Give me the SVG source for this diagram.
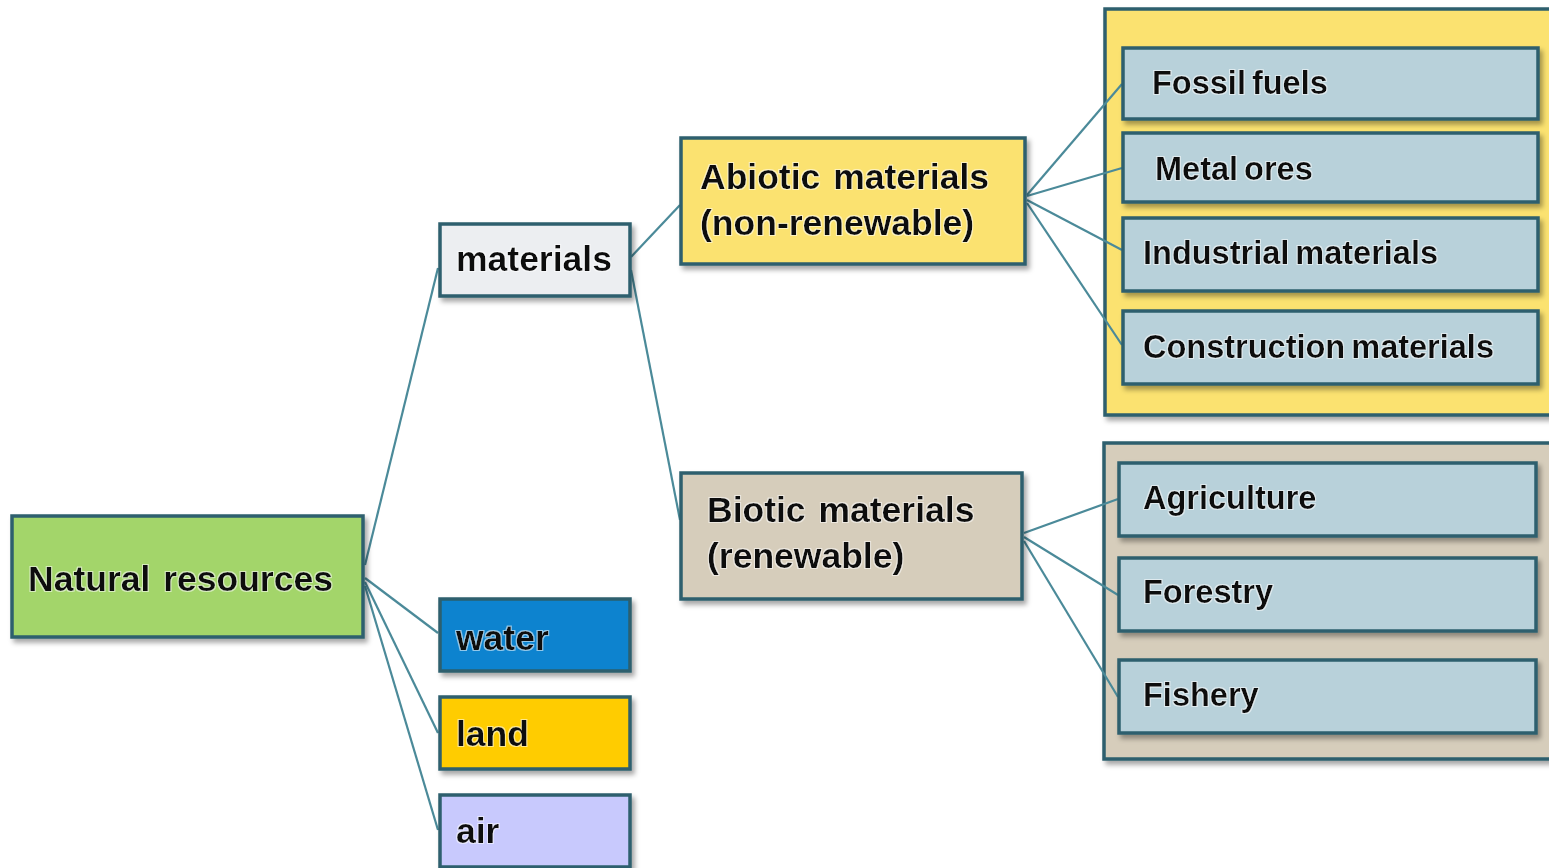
<svg xmlns="http://www.w3.org/2000/svg" width="1549" height="868" viewBox="0 0 1549 868">
  <defs>
    <filter id="shadow" x="-10%" y="-10%" width="125%" height="130%">
      <feDropShadow dx="3" dy="4" stdDeviation="2.5" flood-color="#000" flood-opacity="0.35"/>
    </filter>
    <filter id="halo" x="-5%" y="-20%" width="110%" height="140%">
      <feMorphology in="SourceAlpha" operator="dilate" radius="1.2" result="d"/>
      <feFlood flood-color="#ffffff" flood-opacity="0.55"/>
      <feComposite in2="d" operator="in" result="w"/>
      <feMerge><feMergeNode in="w"/><feMergeNode in="SourceGraphic"/></feMerge>
    </filter>
    <style>
      .box { stroke: #2d5f6e; stroke-width: 3.5; filter: url(#shadow); }
      .inner { stroke: #2d5f6e; stroke-width: 3.5; fill: #b8d1da; filter: url(#shadow); }
      .lbl { font-family: "Liberation Sans", Arial, sans-serif; font-weight: bold; fill: #111; filter: url(#halo); }
      .big { font-size: 35.5px; }
      .sm { font-size: 32.5px; }
      .link { stroke: #4b8a99; stroke-width: 2.2; fill: none; }
    </style>
  </defs>

  <rect width="1549" height="868" fill="#ffffff"/>

  <!-- group containers -->
  <g id="abiotic-group">
    <rect class="box" x="1105" y="9" width="450" height="406" fill="#fbe26f"/>
  </g>
  <g id="biotic-group">
    <rect class="box" x="1104" y="443" width="451" height="316" fill="#d6cdbb"/>
  </g>

  <!-- connectors -->
  <g id="connectors">
    <line class="link" x1="365" y1="565" x2="438" y2="268"/>
    <line class="link" x1="365" y1="578" x2="438" y2="633"/>
    <line class="link" x1="365" y1="582" x2="438" y2="733"/>
    <line class="link" x1="365" y1="586" x2="438" y2="830"/>
    <line class="link" x1="631" y1="257" x2="680" y2="205"/>
    <line class="link" x1="631" y1="270" x2="680" y2="520"/>
    <line class="link" x1="1027" y1="195" x2="1122" y2="84"/>
    <line class="link" x1="1027" y1="196" x2="1122" y2="168"/>
    <line class="link" x1="1027" y1="200" x2="1122" y2="250"/>
    <line class="link" x1="1027" y1="203" x2="1122" y2="345"/>
    <line class="link" x1="1024" y1="533" x2="1118" y2="499"/>
    <line class="link" x1="1024" y1="537" x2="1118" y2="595"/>
    <line class="link" x1="1024" y1="541" x2="1118" y2="697"/>
  </g>

  <g id="natural-resources">
    <rect class="box" x="12" y="516" width="351" height="121" fill="#a3d56a"/>
    <text class="lbl big" x="28" y="591" word-spacing="3">Natural resources</text>
  </g>
  <g id="materials">
    <rect class="box" x="440" y="224" width="190" height="72" fill="#eceef1"/>
    <text class="lbl big" x="456" y="271">materials</text>
  </g>
  <g id="water">
    <rect class="box" x="440" y="599" width="190" height="72" fill="#0a83cf"/>
    <text class="lbl big" x="456" y="650">water</text>
  </g>
  <g id="land">
    <rect class="box" x="440" y="697" width="190" height="72" fill="#ffcc00"/>
    <text class="lbl big" x="456" y="746">land</text>
  </g>
  <g id="air">
    <rect class="box" x="440" y="795" width="190" height="72" fill="#c8c9fd"/>
    <text class="lbl big" x="456" y="843">air</text>
  </g>
  <g id="abiotic">
    <rect class="box" x="681" y="138" width="344" height="126" fill="#fbe26f"/>
    <text class="lbl big" x="700" y="189" word-spacing="3">Abiotic materials</text>
    <text class="lbl big" x="700" y="235">(non-renewable)</text>
  </g>
  <g id="biotic">
    <rect class="box" x="681" y="473" width="341" height="126" fill="#d6cdbb"/>
    <text class="lbl big" x="707" y="522" word-spacing="3">Biotic materials</text>
    <text class="lbl big" x="707" y="568">(renewable)</text>
  </g>

  <g id="fossil-fuels">
    <rect class="inner" x="1123" y="48" width="415" height="71"/>
    <text class="lbl sm" x="1152" y="94" word-spacing="-3">Fossil fuels</text>
  </g>
  <g id="metal-ores">
    <rect class="inner" x="1123" y="133" width="415" height="69"/>
    <text class="lbl sm" x="1155" y="180" word-spacing="-3">Metal ores</text>
  </g>
  <g id="industrial-materials">
    <rect class="inner" x="1123" y="218" width="415" height="73"/>
    <text class="lbl sm" x="1143" y="264" word-spacing="-3">Industrial materials</text>
  </g>
  <g id="construction-materials">
    <rect class="inner" x="1123" y="311" width="415" height="73"/>
    <text class="lbl sm" x="1143" y="358" word-spacing="-3">Construction materials</text>
  </g>
  <g id="agriculture">
    <rect class="inner" x="1119" y="463" width="417" height="73"/>
    <text class="lbl sm" x="1143" y="509">Agriculture</text>
  </g>
  <g id="forestry">
    <rect class="inner" x="1119" y="558" width="417" height="73"/>
    <text class="lbl sm" x="1143" y="603">Forestry</text>
  </g>
  <g id="fishery">
    <rect class="inner" x="1119" y="660" width="417" height="73"/>
    <text class="lbl sm" x="1143" y="706">Fishery</text>
  </g>
</svg>
